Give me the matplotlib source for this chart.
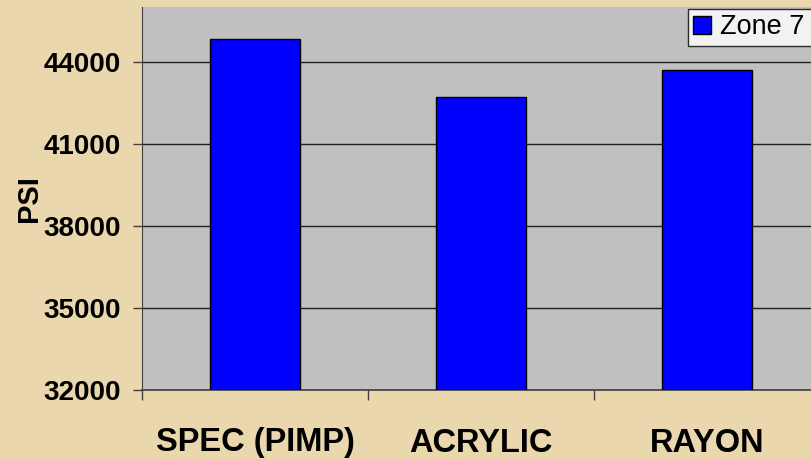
import matplotlib.pyplot as plt
from matplotlib.patches import Patch

# tensile strength by fibre type
categories = ["SPEC (PIMP)", "ACRYLIC", "RAYON"]
psi_zone7 = [44840, 42720, 43700]
y_ticks = [32000, 35000, 38000, 41000, 44000]

plt.rcParams["font.family"] = ["Liberation Sans", "DejaVu Sans"]

fig = plt.figure(figsize=(8.11, 4.59), dpi=100)
fig.patch.set_facecolor("#EAD7AE")

ax = fig.add_axes([142 / 811, 69 / 459, 678 / 811, 383 / 459])
ax.set_facecolor("#C0C0C0")

x = list(range(len(categories)))
ax.bar(x, psi_zone7, width=0.4, color="#0000FF", edgecolor="black", linewidth=1.0, zorder=3)

ax.set_xlim(-0.5, len(categories) - 0.5)
ax.set_ylim(32000, 46000)
ax.set_yticks(y_ticks)
ax.set_yticklabels([str(v) for v in y_ticks], fontsize=20, fontweight="bold")
ax.yaxis.grid(True, color="#202020", linewidth=1.0, zorder=1)
ax.set_axisbelow(True)

# category labels sit between boundary ticks
ax.set_xticks(x)
ax.set_xticklabels(categories, fontsize=23.5, fontweight="bold")
ax.tick_params(axis="x", which="major", length=0, pad=27)
ax.set_xticks([i - 0.5 for i in range(len(categories) + 1)], minor=True)
ax.tick_params(axis="x", which="minor", length=7, width=1, color="#404040")
ax.tick_params(axis="y", length=6.5, width=1, color="#404040", pad=9)

for side in ("top", "right"):
    ax.spines[side].set_visible(False)
ax.spines["left"].set_color("#404040")
ax.spines["bottom"].set_color("#404040")
ax.spines["bottom"].set_linewidth(1.2)

ax.set_ylabel("PSI", fontsize=21, fontweight="bold")
ax.yaxis.set_label_coords(-0.146, 0.50)

# legend box runs off the right edge
leg = fig.legend(handles=[Patch(facecolor="#0000FF", edgecolor="black", label="Zone 7")],
                 loc="upper left", bbox_to_anchor=(688 / 811, 1 - 9 / 459, 150 / 811, 0),
                 mode="expand", fontsize=19.5, frameon=True, fancybox=False, borderpad=0.2,
                 handlelength=0.65, handleheight=0.65, handletextpad=0.35,
                 borderaxespad=0)
leg.get_frame().set_edgecolor("black")
leg.get_frame().set_linewidth(1.0)

fig.savefig("out.png", dpi=100, facecolor=fig.get_facecolor())
